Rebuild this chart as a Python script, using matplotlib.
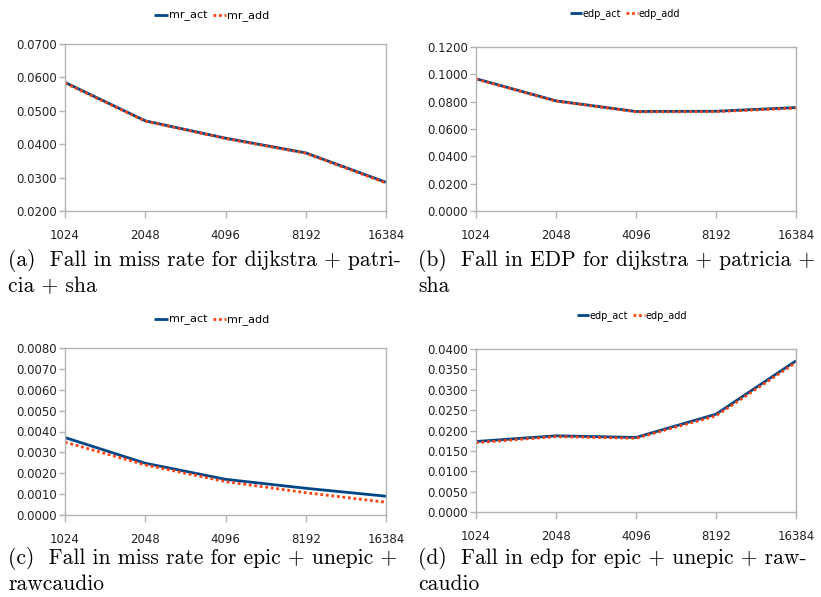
import numpy as np
import matplotlib
matplotlib.use("Agg")
import matplotlib.pyplot as plt

# cache sizes on the x axis
sizes = ["1024", "2048", "4096", "8192", "16384"]

# (a) miss rate, dijkstra + patricia + sha
mr_act_a = [0.0585, 0.0470, 0.0418, 0.0374, 0.0286]
mr_add_a = [0.0583, 0.0469, 0.0417, 0.0373, 0.0284]

# (b) EDP, dijkstra + patricia + sha
edp_act_b = [0.0968, 0.0806, 0.0728, 0.0730, 0.0757]
edp_add_b = [0.0965, 0.0804, 0.0726, 0.0727, 0.0753]

# (c) miss rate, epic + unepic + rawcaudio
mr_act_c = [0.00371, 0.00248, 0.00171, 0.00128, 0.00090]
mr_add_c = [0.00349, 0.00240, 0.00160, 0.00107, 0.00061]

# (d) edp, epic + unepic + rawcaudio
edp_act_d = [0.0173, 0.0187, 0.0183, 0.0240, 0.0371]
edp_add_d = [0.0170, 0.0185, 0.0181, 0.0236, 0.0367]

captions = [
    ["(a)  Fall in miss rate for dijkstra + patri-", "cia + sha"],
    ["(b)  Fall in EDP for dijkstra + patricia +", "sha"],
    ["(c)  Fall in miss rate for epic + unepic +", "rawcaudio"],
    ["(d)  Fall in edp for epic + unepic + raw-", "caudio"],
]

BLUE = "#004586"
ORANGE = "#ff420e"
GRID = "#b3b3b3"

fig = plt.figure(figsize=(8.21, 5.97), dpi=100)

W, H = 821.0, 597.0
def box(l, t, r, b):
    return [l / W, 1 - b / H, (r - l) / W, (b - t) / H]

panels = [
    # axes box, ylim, yticks, labels, act, add, legend pos (px), legend fs
    (box(65, 44, 386, 211), (0.02, 0.07), np.arange(0.02, 0.0701, 0.01),
     ("mr_act", "mr_add"), mr_act_a, mr_add_a, (212, 16), 8),
    (box(476, 47, 796, 211), (0.0, 0.12), np.arange(0.0, 0.1201, 0.02),
     ("edp_act", "edp_add"), edp_act_b, edp_add_b, (625, 14), 7),
    (box(65, 348, 386, 515), (0.0, 0.008), np.arange(0.0, 0.00801, 0.001),
     ("mr_act", "mr_add"), mr_act_c, mr_add_c, (212, 320), 8),
    (box(476, 349, 796, 512), (0.0, 0.04), np.arange(0.0, 0.0401, 0.005),
     ("edp_act", "edp_add"), edp_act_d, edp_add_d, (632, 316), 7),
]

caption_pos = [(8, 261), (418, 261), (8, 559), (418, 559)]

x = np.arange(len(sizes))
for i, (rect, ylim, yt, names, act, add, lpos, lfs) in enumerate(panels):
    ax = fig.add_axes(rect)
    l1, = ax.plot(x, act, color=BLUE, lw=2.0, solid_capstyle="butt")
    l2, = ax.plot(x, add, color=ORANGE, lw=2.0, ls=(0, (1, 1)))
    ax.set_xlim(0, 4)
    ax.set_ylim(*ylim)
    ax.set_yticks(yt)
    ax.set_yticklabels(["%.4f" % v for v in yt])
    ax.set_xticks(x)
    ax.set_xticklabels(sizes)
    for s in ax.spines.values():
        s.set_color(GRID)
        s.set_linewidth(1.0)
    ax.tick_params(axis="y", direction="out", length=4, width=1, color=GRID,
                   labelsize=8.5, labelcolor="#222222", pad=2)
    ax.tick_params(axis="x", direction="out", length=5, width=1, color=GRID,
                   labelsize=8.5, labelcolor="#222222", pad=8)
    fig.legend([l1, l2], names, loc="center", ncol=2, frameon=False,
               bbox_to_anchor=(lpos[0] / W, 1 - lpos[1] / H),
               fontsize=lfs, handlelength=1.2, handletextpad=0.1,
               columnspacing=0.5, borderaxespad=0)
    cx, cy = caption_pos[i]
    fig.text(cx / W, 1 - cy / H, captions[i][0], family="cmr10", fontsize=15.5,
             va="center", ha="left")
    fig.text(cx / W, 1 - (cy + 25) / H, captions[i][1], family="cmr10", fontsize=15.5,
             va="center", ha="left")

fig.savefig("out.png", dpi=100)
